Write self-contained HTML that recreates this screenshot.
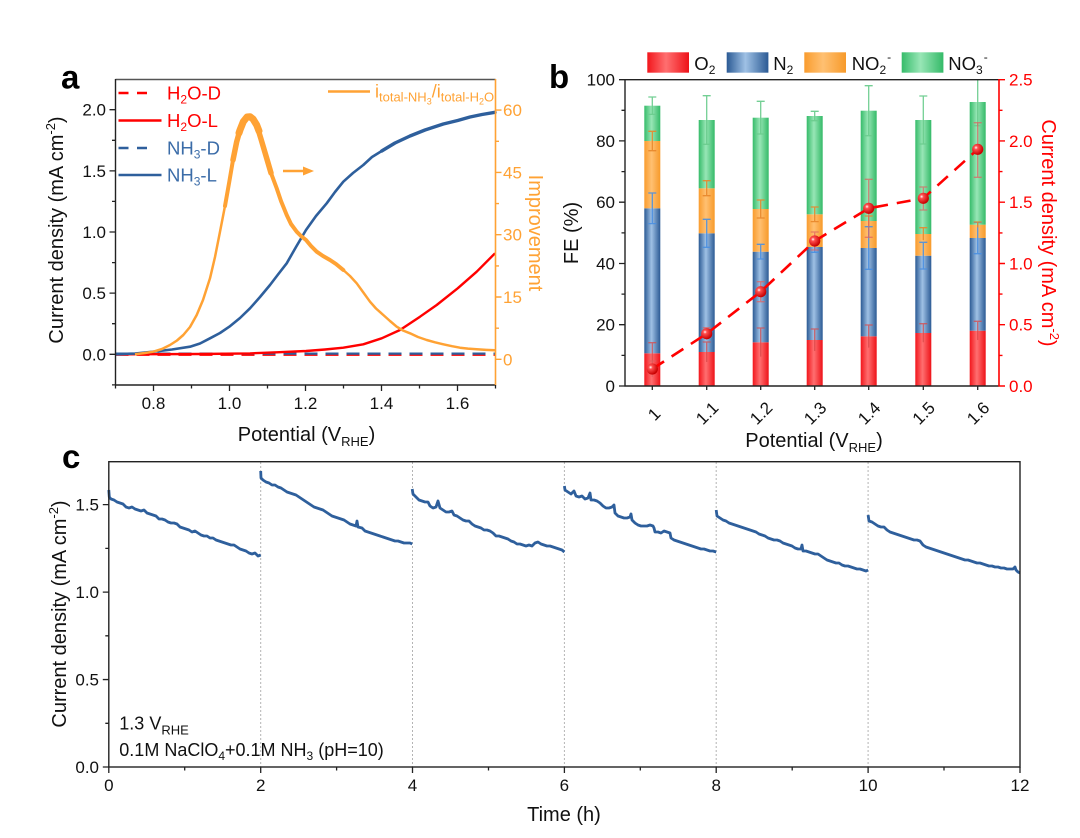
<!DOCTYPE html>
<html><head><meta charset="utf-8"><style>
html,body{margin:0;padding:0;background:#fff;}
svg{display:block;}
text{font-family:"Liberation Sans",Arial,sans-serif;}
</style></head><body>
<svg width="1080" height="838" viewBox="0 0 1080 838" xmlns="http://www.w3.org/2000/svg">
<defs>
<linearGradient id="gR" x1="0" x2="1" y1="0" y2="0"><stop offset="0" stop-color="#F2161C"/><stop offset="0.45" stop-color="#FF6F70"/><stop offset="1" stop-color="#EE1218"/></linearGradient>
<linearGradient id="gB" x1="0" x2="1" y1="0" y2="0"><stop offset="0" stop-color="#2B5A94"/><stop offset="0.45" stop-color="#9FC1E5"/><stop offset="1" stop-color="#2B5A94"/></linearGradient>
<linearGradient id="gO" x1="0" x2="1" y1="0" y2="0"><stop offset="0" stop-color="#F99C2E"/><stop offset="0.45" stop-color="#FFC072"/><stop offset="1" stop-color="#F79A2A"/></linearGradient>
<linearGradient id="gG" x1="0" x2="1" y1="0" y2="0"><stop offset="0" stop-color="#36BC6A"/><stop offset="0.45" stop-color="#98E6B6"/><stop offset="1" stop-color="#34BA68"/></linearGradient>
<radialGradient id="gM" cx="0.35" cy="0.35" r="0.65"><stop offset="0" stop-color="#FFFFFF"/><stop offset="0.25" stop-color="#FF5050"/><stop offset="1" stop-color="#C80000"/></radialGradient>
</defs>
<rect width="1080" height="838" fill="#fff"/>

<!-- ================= PANEL A ================= -->
<text x="61" y="88.5" font-size="33" font-weight="bold">a</text>

<line x1="115.5" y1="354.8" x2="495.5" y2="354.8" stroke="#F00" stroke-width="2.2" stroke-dasharray="13 8"/>
<line x1="115.5" y1="353.6" x2="495.5" y2="353.6" stroke="#2E5F9C" stroke-width="2.2" stroke-dasharray="13 8"/>

<polyline fill="none" stroke="#F00" stroke-width="2.4" stroke-linejoin="round" points="116,354.3 150,354.2 200,354 250,353.4 276.7,352.3 306,351 325,349.5 343.3,347.7 363.3,344.3 381.7,338.3 400,330 420,316.7 436.7,305 457.7,288.3 476.7,271.7 495,253.3"/>

<polyline fill="none" stroke="#2E5F9C" stroke-width="2.6" stroke-linejoin="round" stroke-linecap="round" points="116.7,354.3 135,353.5 153.3,351.7 172,349.5 190,346.7 200,343.5 210,338.3 220,333 229.3,326.7 240,318 250,308.3 260,297 270,285 278,274.5 286.7,263.3 296,247 306,230 316,216 326.7,203.3 335,192 343.3,181.7 353,173 363.3,165 372,157 381.7,151"/>
<polyline fill="none" stroke="#2E5F9C" stroke-width="3.4" stroke-linejoin="round" stroke-linecap="round" points="381.7,151 395,143 410,136 425,130 443.3,124 457.7,120.5 470,117 482,114.5 495,112.3"/>

<polyline fill="none" stroke="#FFA234" stroke-width="2.5" stroke-linejoin="round" points="135,354.3 145,353 153.3,351.7 162,349 170,345 177,340.5 183.3,335 190,327 196.7,315 203,300 210,278.3 215,257 220,231.7 225,206 229.3,181.7 233,160 236.7,141.7 240,130 243.3,121.7 247,117 250,116.7 253,119 256.7,125 261,139 266.7,158.3 271,173 276.7,188.3 281,201 286.7,215 291,224 296.7,231.7 301,236 306,240 311,246 316.7,251.7 323,256 330,260 336,264 343.3,270 350,276 356.7,283.3 363,292 370,301.7 376,308.5 383.3,315 390,321 396.7,326.7 403,330.5 410,333.3 418,337 426.7,340 435,342.3 443.3,344.3 452,346.2 460,347.7 468,348.6 476.7,349.3 486,349.9 495,350.3"/>
<polyline fill="none" stroke="#FFA234" stroke-width="4" stroke-linejoin="round" stroke-linecap="round" points="225,206 229.3,181.7 233,160 236.7,141.7 240,130 243.3,121.7 247,117 250,116.7 253,119 256.7,125 261,139 266.7,158.3 271,173 276.7,188.3 281,201 286.7,215 291,224 296.7,231.7 301,236 306,240 311,246 316.7,251.7 323,256 330,260 336,264 343.3,270"/>
<polyline fill="none" stroke="#FFA234" stroke-width="5.5" stroke-linejoin="round" stroke-linecap="round" points="233,160 236.7,141.7 240,130 243.3,121.7 247,117 250,116.7 253,119 256.7,125 261,139 266.7,158.3 271,173"/>
<polyline fill="none" stroke="#FFA234" stroke-width="7" stroke-linejoin="round" stroke-linecap="round" points="239,133 240,130 243.3,121.7 247,117 250,116.7 253,119 256.7,125 259,131"/>

<line x1="283" y1="171" x2="305" y2="171" stroke="#FFA234" stroke-width="2.4"/>
<polygon points="303,166.5 314,171 303,175.5" fill="#FFA234"/>

<line x1="118.5" y1="93" x2="150" y2="93" stroke="#F00" stroke-width="2.4" stroke-dasharray="10 8.5"/>
<line x1="118.5" y1="120.5" x2="161.5" y2="120.5" stroke="#F00" stroke-width="2.4"/>
<line x1="118.5" y1="148" x2="150" y2="148" stroke="#2E5F9C" stroke-width="2.4" stroke-dasharray="10 8.5"/>
<line x1="118.5" y1="175" x2="161.5" y2="175" stroke="#2E5F9C" stroke-width="2.4"/>
<text x="167" y="99.5" font-size="18.5" fill="#F00">H<tspan font-size="12" dy="4">2</tspan><tspan dy="-4">O-D</tspan></text>
<text x="167" y="127" font-size="18.5" fill="#F00">H<tspan font-size="12" dy="4">2</tspan><tspan dy="-4">O-L</tspan></text>
<text x="167" y="154.5" font-size="18.5" fill="#3B6CA8">NH<tspan font-size="12" dy="4">3</tspan><tspan dy="-4">-D</tspan></text>
<text x="167" y="181.5" font-size="18.5" fill="#3B6CA8">NH<tspan font-size="12" dy="4">3</tspan><tspan dy="-4">-L</tspan></text>
<line x1="328" y1="91.5" x2="370" y2="91.5" stroke="#FFA234" stroke-width="2.4"/>
<text x="375" y="97.5" font-size="18" fill="#FFA234">i<tspan font-size="13" dy="4">total-NH</tspan><tspan font-size="9" dy="3">3</tspan><tspan font-size="18" dy="-7">/i</tspan><tspan font-size="13" dy="4">total-H</tspan><tspan font-size="9" dy="3">2</tspan><tspan font-size="13" dy="-3">O</tspan></text>

<line x1="115.5" y1="79.5" x2="495.5" y2="79.5" stroke="#555" stroke-width="1.4"/>
<line x1="115.5" y1="79" x2="115.5" y2="385.5" stroke="#222" stroke-width="1.4"/>
<line x1="115" y1="385" x2="495.5" y2="385" stroke="#222" stroke-width="1.4"/>
<line x1="495.5" y1="79" x2="495.5" y2="385.5" stroke="#FFA234" stroke-width="1.6"/>
<path d="M109.5 354.3H115.5M109.5 293.15H115.5M109.5 232H115.5M109.5 170.85H115.5M109.5 109.7H115.5M112 323.7H115.5M112 262.6H115.5M112 201.4H115.5M112 140.3H115.5M112 384.9H115.5" stroke="#222" stroke-width="1.3"/>
<path d="M153.5 385V391M229.5 385V391M305.5 385V391M381.5 385V391M457.5 385V391M115.5 385V388.5M191.5 385V388.5M267.5 385V388.5M343.5 385V388.5M419.5 385V388.5M495.5 385V388.5" stroke="#222" stroke-width="1.3"/>
<path d="M495.5 359.3H501.5M495.5 297H501.5M495.5 234.7H501.5M495.5 172.4H501.5M495.5 110.1H501.5M495.5 328.2H499M495.5 265.9H499M495.5 203.6H499M495.5 141.3H499" stroke="#FFA234" stroke-width="1.4"/>
<g font-size="17" text-anchor="end" fill="#111">
<text x="106" y="360.3">0.0</text><text x="106" y="299.2">0.5</text><text x="106" y="238">1.0</text><text x="106" y="176.9">1.5</text><text x="106" y="115.7">2.0</text>
</g>
<g font-size="17" text-anchor="middle" fill="#111">
<text x="153.5" y="409">0.8</text><text x="229.5" y="409">1.0</text><text x="305.5" y="409">1.2</text><text x="381.5" y="409">1.4</text><text x="457.5" y="409">1.6</text>
</g>
<g font-size="17" fill="#FFA234">
<text x="503" y="365.3">0</text><text x="503" y="303">15</text><text x="503" y="240.7">30</text><text x="503" y="178.4">45</text><text x="503" y="116.1">60</text>
</g>
<text x="306.5" y="441" font-size="20" text-anchor="middle" fill="#111">Potential (V<tspan font-size="13" dy="5">RHE</tspan><tspan dy="-5">)</tspan></text>
<text transform="translate(63,230) rotate(-90)" font-size="20" text-anchor="middle" fill="#111">Current density (mA cm<tspan font-size="13" dy="-8">-2</tspan><tspan dy="8">)</tspan></text>
<text transform="translate(529,233) rotate(90)" font-size="20" text-anchor="middle" fill="#FFA234">Improvement</text>

<!-- ================= PANEL B ================= -->
<text x="549" y="88" font-size="33" font-weight="bold">b</text>

<rect x="647.3" y="52.3" width="41.7" height="20.4" fill="url(#gR)"/>
<rect x="726.7" y="52.3" width="41.7" height="20.4" fill="url(#gB)"/>
<rect x="804.3" y="52.3" width="41.7" height="20.4" fill="url(#gO)"/>
<rect x="901.7" y="52.3" width="41.7" height="20.4" fill="url(#gG)"/>
<text x="694.3" y="70" font-size="18.5" fill="#111">O<tspan font-size="12" dy="4">2</tspan></text>
<text x="773.3" y="70" font-size="18.5" fill="#111">N<tspan font-size="12" dy="4">2</tspan></text>
<text x="851.7" y="70" font-size="18.5" fill="#111">NO<tspan font-size="12" dy="4">2</tspan><tspan font-size="12" dy="-13" dx="1">-</tspan></text>
<text x="948.3" y="70" font-size="18.5" fill="#111">NO<tspan font-size="12" dy="4">3</tspan><tspan font-size="12" dy="-13" dx="1">-</tspan></text>

<g>
<rect x="644.3" y="353.3" width="16" height="32.7" fill="url(#gR)"/>
<rect x="644.3" y="208.3" width="16" height="145" fill="url(#gB)"/>
<rect x="644.3" y="141" width="16" height="67.3" fill="url(#gO)"/>
<rect x="644.3" y="105.7" width="16" height="35.3" fill="url(#gG)"/>

<rect x="698.7" y="352" width="16" height="34" fill="url(#gR)"/>
<rect x="698.7" y="233.3" width="16" height="118.7" fill="url(#gB)"/>
<rect x="698.7" y="188.3" width="16" height="45" fill="url(#gO)"/>
<rect x="698.7" y="120" width="16" height="68.3" fill="url(#gG)"/>

<rect x="752.7" y="342.3" width="16" height="43.7" fill="url(#gR)"/>
<rect x="752.7" y="251.7" width="16" height="90.6" fill="url(#gB)"/>
<rect x="752.7" y="209" width="16" height="42.7" fill="url(#gO)"/>
<rect x="752.7" y="117.7" width="16" height="91.3" fill="url(#gG)"/>

<rect x="806.7" y="340" width="16" height="46" fill="url(#gR)"/>
<rect x="806.7" y="247" width="16" height="93" fill="url(#gB)"/>
<rect x="806.7" y="214.3" width="16" height="32.7" fill="url(#gO)"/>
<rect x="806.7" y="116" width="16" height="98.3" fill="url(#gG)"/>

<rect x="860.7" y="336.3" width="16" height="49.7" fill="url(#gR)"/>
<rect x="860.7" y="248" width="16" height="88.3" fill="url(#gB)"/>
<rect x="860.7" y="221" width="16" height="27" fill="url(#gO)"/>
<rect x="860.7" y="110.7" width="16" height="110.3" fill="url(#gG)"/>

<rect x="915.3" y="333" width="16" height="53" fill="url(#gR)"/>
<rect x="915.3" y="255.7" width="16" height="77.3" fill="url(#gB)"/>
<rect x="915.3" y="234" width="16" height="21.7" fill="url(#gO)"/>
<rect x="915.3" y="120" width="16" height="114" fill="url(#gG)"/>

<rect x="969.7" y="330.7" width="16" height="55.3" fill="url(#gR)"/>
<rect x="969.7" y="238" width="16" height="92.7" fill="url(#gB)"/>
<rect x="969.7" y="224.7" width="16" height="13.3" fill="url(#gO)"/>
<rect x="969.7" y="102" width="16" height="122.7" fill="url(#gG)"/>
</g>

<g stroke-width="1.3" fill="none">
<path stroke="#D84848" stroke-opacity="0.75" d="M652.3 342.7V364M648.3 342.7H656.3M706.7 342V362M702.7 342H710.7M760.7 328V356.6M756.7 328H764.7M814.7 329V351M810.7 329H818.7M868.7 325V347.6M864.7 325H872.7M923.3 323.7V342.3M919.3 323.7H927.3M977.7 321.3V340M973.7 321.3H981.7"/>
<path stroke="#4A8FE0" stroke-opacity="0.9" d="M652.3 193V223.6M648.3 193H656.3M648.3 223.6H656.3M706.7 219.3V247.3M702.7 219.3H710.7M702.7 247.3H710.7M760.7 244.3V259M756.7 244.3H764.7M756.7 259H764.7M814.7 241.7V252.3M810.7 241.7H818.7M810.7 252.3H818.7M868.7 226.7V269.3M864.7 226.7H872.7M864.7 269.3H872.7M923.3 242.3V269M919.3 242.3H927.3M919.3 269H927.3M977.7 222.3V253.7M973.7 222.3H981.7M973.7 253.7H981.7"/>
<path stroke="#E8862A" stroke-opacity="0.9" d="M652.3 131.3V150.7M648.3 131.3H656.3M648.3 150.7H656.3M706.7 180.7V195.7M702.7 180.7H710.7M702.7 195.7H710.7M760.7 200V218M756.7 200H764.7M756.7 218H764.7M814.7 207V221.6M810.7 207H818.7M810.7 221.6H818.7M868.7 216V226M864.7 216H872.7M923.3 227.7V240.3M919.3 227.7H927.3M977.7 222V227.4M973.7 222H981.7"/>
<path stroke="#6CCC8E" stroke-opacity="0.95" d="M652.3 97V114.4M648.3 97H656.3M648.3 114.4H656.3M706.7 95.7V144.3M702.7 95.7H710.7M702.7 144.3H710.7M760.7 101.3V134M756.7 101.3H764.7M756.7 134H764.7M814.7 111.3V120.7M810.7 111.3H818.7M810.7 120.7H818.7M868.7 85.7V135.7M864.7 85.7H872.7M864.7 135.7H872.7M923.3 96V144M919.3 96H927.3M919.3 144H927.3M977.7 79.5V125.7M973.7 125.7H981.7"/>
<path stroke="#E06060" stroke-opacity="0.7" d="M652.3 361V377M648.3 361H656.3M706.7 327.7V339.7M702.7 327.7H710.7M760.7 281.7V301.7M756.7 281.7H764.7M756.7 301.7H764.7M814.7 232V250M810.7 232H818.7M810.7 250H818.7M868.7 179.3V237.3M864.7 179.3H872.7M864.7 237.3H872.7M923.3 187V210M919.3 187H927.3M919.3 210H927.3M977.7 122.7V177.3M973.7 122.7H981.7M973.7 177.3H981.7"/>
</g>

<polyline fill="none" stroke="#F00" stroke-width="2.6" stroke-dasharray="14 9" points="652.3,369 706.7,333.7 760.7,291.7 814.7,241 868.7,208.3 923.3,198.3 977.7,149.3"/>
<g fill="url(#gM)">
<circle cx="652.3" cy="369" r="5.6"/><circle cx="706.7" cy="333.7" r="5.6"/><circle cx="760.7" cy="291.7" r="5.6"/><circle cx="814.7" cy="241" r="5.6"/><circle cx="868.7" cy="208.3" r="5.6"/><circle cx="923.3" cy="198.3" r="5.6"/><circle cx="977.7" cy="149.3" r="5.6"/>
</g>

<line x1="625" y1="79.7" x2="999" y2="79.7" stroke="#222" stroke-width="1.4"/>
<line x1="625" y1="79" x2="625" y2="386.5" stroke="#222" stroke-width="1.4"/>
<line x1="624.5" y1="386" x2="999" y2="386" stroke="#222" stroke-width="1.4"/>
<line x1="999" y1="79" x2="999" y2="386.5" stroke="#F00" stroke-width="1.6"/>
<path d="M619 386H625M619 324.7H625M619 263.5H625M619 202.2H625M619 140.9H625M619 79.7H625M621.5 355.4H625M621.5 294.1H625M621.5 232.9H625M621.5 171.6H625M621.5 110.3H625" stroke="#222" stroke-width="1.3"/>
<path d="M652.3 386V390M706.7 386V390M760.7 386V390M814.7 386V390M868.7 386V390M923.3 386V390M977.7 386V390" stroke="#222" stroke-width="1.3"/>
<path d="M999 386H1005M999 324.7H1005M999 263.5H1005M999 202.2H1005M999 140.9H1005M999 79.7H1005M999 355.4H1002.5M999 294.1H1002.5M999 232.9H1002.5M999 171.6H1002.5M999 110.3H1002.5" stroke="#F00" stroke-width="1.4"/>
<g font-size="17" text-anchor="end" fill="#111">
<text x="615" y="392">0</text><text x="615" y="330.7">20</text><text x="615" y="269.5">40</text><text x="615" y="208.2">60</text><text x="615" y="146.9">80</text><text x="615" y="85.7">100</text>
</g>
<g font-size="17" fill="#F00">
<text x="1009" y="392">0.0</text><text x="1009" y="330.7">0.5</text><text x="1009" y="269.5">1.0</text><text x="1009" y="208.2">1.5</text><text x="1009" y="146.9">2.0</text><text x="1009" y="85.7">2.5</text>
</g>
<g font-size="17" text-anchor="middle" fill="#111">
<text transform="translate(654,414) rotate(-45)" y="6">1</text>
<text transform="translate(707,413) rotate(-45)" y="6">1.1</text>
<text transform="translate(761,413) rotate(-45)" y="6">1.2</text>
<text transform="translate(815,413) rotate(-45)" y="6">1.3</text>
<text transform="translate(869,413) rotate(-45)" y="6">1.4</text>
<text transform="translate(923.5,413) rotate(-45)" y="6">1.5</text>
<text transform="translate(978,413) rotate(-45)" y="6">1.6</text>
</g>
<text x="814" y="447" font-size="20" text-anchor="middle" fill="#111">Potential (V<tspan font-size="13" dy="5">RHE</tspan><tspan dy="-5">)</tspan></text>
<text transform="translate(578,233) rotate(-90)" font-size="20" text-anchor="middle" fill="#111">FE (%)</text>
<text transform="translate(1042,233) rotate(90)" font-size="20" text-anchor="middle" fill="#F00">Current density (mA cm<tspan font-size="13" dy="-8">-2</tspan><tspan dy="8">)</tspan></text>

<!-- ================= PANEL C ================= -->
<text x="62" y="468" font-size="33" font-weight="bold">c</text>
<g stroke="#B4B4B4" stroke-width="1" stroke-dasharray="2 2">
<line x1="260.7" y1="462" x2="260.7" y2="767"/><line x1="412.5" y1="462" x2="412.5" y2="767"/><line x1="564.4" y1="462" x2="564.4" y2="767"/><line x1="716.2" y1="462" x2="716.2" y2="767"/><line x1="868.1" y1="462" x2="868.1" y2="767"/>
</g>
<g fill="none" stroke="#2E5F9C" stroke-width="2.8" stroke-linejoin="round">
<polyline points="108.8,490 109.3,497 111,499 114,500 117,502 120,503 123,504 126,507 129,508 132,507 135,509 138,510 141,511 144,510 147,513 150,514 153,515 156,516 159,519 162,519 165,520 168,522 171,523 174,523 177,524 180,527 183,528 186,529 189,530 192,532 195,531 198,533 201,535 204,536 207,536 210,538 213,538 216,540 219,541 222,542 225,543 228,544 231,545 234,545 237,547 240,549 243,550 246,551 249,553 252,554 255,553 258,556 260.7,555"/>
<polyline points="260.7,471 261,478 263,480 266,482 269,483 272,485 275,485 278,487 281,488 284,490 287,492 290,493 293,494 296,495 299,497 302,499 305,501 308,503 311,505 314,507 317,508 320,509 323,510 326,512 329,514 332,516 335,517 338,518 341,519 344,520 347,522 350,524 353,525 356,526 357,521 358,527 362,528 365,531 368,532 371,533 374,534 377,535 380,536 383,537 386,538 389,539 392,540 395,541 398,541 401,542 404,543 407,543 410,543 412.2,544"/>
<polyline points="412.2,489 413,494 416,497 419,500 422,501 425,502 428,502 430,506 433,508 436,507 438,501 440,508 443,510 446,512 449,512 452,511 454,515 457,516 460,518 463,520 466,521 469,521 472,524 475,526 478,527 481,528 484,530 487,530 490,531 493,533 496,536 499,536 502,537 505,538 508,539 511,541 514,542 517,544 520,544 523,545 526,546 529,545 532,546 535,543 538,542 541,544 544,545 547,546 550,546 553,547 556,548 559,549 562,550 564.4,552"/>
<polyline points="564.4,486 565,490 568,492 571,494 574,491 576,496 579,497 582,496 585,499 588,498 590,493 591,500 594,500 597,501 600,503 603,506 606,508 609,508 612,507 614,505 615,513 618,516 621,517 624,518 627,518 630,517 631,514 632,520 635,523 638,525 641,526 644,526 647,526 650,525 653,526 654,528 655,532 658,532 661,533 664,531 667,532 670,533 671,538 674,540 677,541 680,542 683,543 686,544 689,545 692,546 695,547 698,548 701,549 704,549 707,550 710,551 713,551 716.2,552"/>
<polyline points="716.2,510 717,516 720,518 723,520 726,521 729,523 732,524 735,525 738,526 741,527 744,528 747,529 750,530 753,531 756,532 759,534 762,535 765,536 768,538 771,539 774,540 777,540 780,541 783,543 786,544 789,545 792,546 795,548 798,549 801,549 802,545 803,551 806,551 809,552 812,553 815,554 818,554 821,556 824,558 827,560 830,561 833,562 836,563 839,563 842,565 845,566 848,566 851,567 854,568 857,569 860,569 863,570 866,571 868.1,570"/>
<polyline points="868.1,515 869,521 872,522 875,524 878,526 881,527 884,527 887,530 890,532 893,533 896,534 899,535 902,536 905,537 908,538 911,539 914,540 917,540 920,541 923,545 926,547 929,548 932,549 935,550 938,551 941,552 944,553 947,554 950,555 953,556 956,557 959,558 962,559 965,560 968,560 971,561 974,562 977,563 980,563 983,564 986,565 989,566 992,566 995,567 998,567 1001,568 1004,568 1007,569 1010,569 1013,569 1015,567 1016,570 1018,572 1020,573"/>
</g>
<rect x="108.8" y="461.7" width="911.2" height="305.3" fill="none" stroke="#222" stroke-width="1.4"/>
<path d="M102.8 767H108.8M102.8 679.55H108.8M102.8 592.1H108.8M102.8 504.65H108.8M105.3 723.3H108.8M105.3 635.8H108.8M105.3 548.4H108.8" stroke="#222" stroke-width="1.3"/>
<path d="M108.8 767V773M260.7 767V773M412.5 767V773M564.4 767V773M716.2 767V773M868.1 767V773M1020 767V773M184.7 767V770.5M336.6 767V770.5M488.5 767V770.5M640.3 767V770.5M792.2 767V770.5M944 767V770.5" stroke="#222" stroke-width="1.3"/>
<g font-size="17" text-anchor="end" fill="#111">
<text x="99" y="773">0.0</text><text x="99" y="685.5">0.5</text><text x="99" y="598.1">1.0</text><text x="99" y="510.6">1.5</text>
</g>
<g font-size="17" text-anchor="middle" fill="#111">
<text x="108.8" y="791">0</text><text x="260.7" y="791">2</text><text x="412.5" y="791">4</text><text x="564.4" y="791">6</text><text x="716.2" y="791">8</text><text x="868.1" y="791">10</text><text x="1020" y="791">12</text>
</g>
<text x="119.3" y="729.3" font-size="18" fill="#111">1.3 V<tspan font-size="13" dy="5">RHE</tspan></text>
<text x="119.3" y="756" font-size="18" fill="#111">0.1M NaClO<tspan font-size="12" dy="4">4</tspan><tspan dy="-4">+0.1M NH</tspan><tspan font-size="12" dy="4">3</tspan><tspan dy="-4"> (pH=10)</tspan></text>
<text x="564" y="821" font-size="20" text-anchor="middle" fill="#111">Time (h)</text>
<text transform="translate(66,614) rotate(-90)" font-size="20" text-anchor="middle" fill="#111">Current density (mA cm<tspan font-size="13" dy="-8">-2</tspan><tspan dy="8">)</tspan></text>
</svg>
</body></html>
